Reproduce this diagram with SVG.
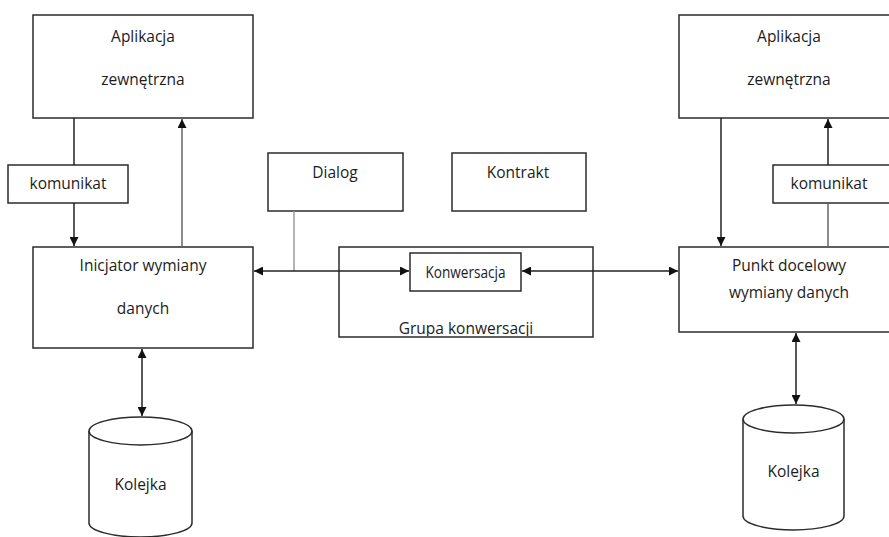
<svg xmlns="http://www.w3.org/2000/svg" width="889" height="537" viewBox="0 0 889 537">
<defs>
<style>
.box{fill:#fff;stroke:#2b2b2b;stroke-width:1.5}
.t{font-family:"Open Sans","Liberation Sans",sans-serif;font-size:15.5px;fill:#1c1c1c;text-anchor:middle}
.c{fill:none;stroke:#222;stroke-width:1.5}
.g{fill:none;stroke:#9a9a9a;stroke-width:1.5}
.m{fill:none;stroke:#666;stroke-width:1.5}
</style>
<marker id="ah" viewBox="0 0 10 10" refX="10" refY="5" markerWidth="9" markerHeight="9" markerUnits="userSpaceOnUse" orient="auto-start-reverse">
<path d="M0,0 L10,5 L0,10 z" fill="#111"/>
</marker>
<clipPath id="gk"><rect x="339" y="247" width="254" height="89"/></clipPath>
</defs>
<rect width="889" height="537" fill="#fff"/>

<g id="app-left">
<rect class="box" x="33" y="15" width="220" height="103"/>
<text class="t" x="143" y="42">Aplikacja</text>
<text class="t" x="143" y="85">zewnętrzna</text>
</g>
<g id="app-right">
<rect class="box" x="679" y="15" width="220" height="103"/>
<text class="t" x="789" y="42">Aplikacja</text>
<text class="t" x="789" y="85">zewnętrzna</text>
</g>

<g id="komunikat-left">
<rect class="box" x="8" y="165" width="120" height="38"/>
<text class="t" x="68" y="189">komunikat</text>
</g>
<g id="komunikat-right">
<rect class="box" x="773" y="165" width="130" height="38"/>
<text class="t" x="829" y="189">komunikat</text>
</g>

<g id="inicjator">
<rect class="box" x="33" y="247" width="220" height="101"/>
<text class="t" x="143" y="271">Inicjator wymiany</text>
<text class="t" x="143" y="314">danych</text>
</g>

<g id="dialog">
<rect class="box" x="268" y="153" width="135" height="58"/>
<text class="t" x="335" y="178">Dialog</text>
</g>
<g id="kontrakt">
<rect class="box" x="452" y="153" width="134" height="58"/>
<text class="t" x="518" y="178">Kontrakt</text>
</g>

<g id="grupa">
<rect class="box" x="339" y="247" width="254" height="90"/>
<text class="t" x="466" y="334" clip-path="url(#gk)">Grupa konwersacji</text>
</g>

<g id="punkt">
<rect class="box" x="679" y="247" width="220" height="85"/>
<text class="t" x="789" y="271">Punkt docelowy</text>
<text class="t" x="789" y="298">wymiany danych</text>
</g>

<g id="kolejka-left">
<path class="box" d="M89,431 V523 A51.5,14 0 0 0 192,523 V431"/>
<ellipse class="box" cx="140.5" cy="431" rx="51.5" ry="14"/>
<text class="t" x="140.5" y="490">Kolejka</text>
</g>
<g id="kolejka-right">
<path class="box" d="M743,419 V516 A50.5,14 0 0 0 844,516 V419"/>
<ellipse class="box" cx="793.5" cy="419" rx="50.5" ry="14"/>
<text class="t" x="793.5" y="477">Kolejka</text>
</g>

<g id="connectors">
<path class="c" d="M74,118 V165"/>
<path class="c" d="M74,203 V246" marker-end="url(#ah)"/>
<path class="m" d="M182,247 V119" marker-end="url(#ah)"/>
<path class="g" d="M294,211 V271"/>
<path class="c" d="M254,271 H409" marker-start="url(#ah)" marker-end="url(#ah)"/>
<path class="c" d="M522,271 H678" marker-start="url(#ah)" marker-end="url(#ah)"/>
<path class="c" d="M721,118 V246" marker-end="url(#ah)"/>
<path class="m" d="M828,247 V203"/>
<path class="c" d="M828,165 V119" marker-end="url(#ah)"/>
<path class="c" d="M142,349 V416" marker-start="url(#ah)" marker-end="url(#ah)"/>
<path class="c" d="M796,333 V404" marker-start="url(#ah)" marker-end="url(#ah)"/>
</g>

<g id="konwersacja">
<rect class="box" x="410" y="253" width="111" height="38"/>
<text class="t" x="465.5" y="278" textLength="80" lengthAdjust="spacingAndGlyphs" style="font-size:16px">Konwersacja</text>
</g>
</svg>
